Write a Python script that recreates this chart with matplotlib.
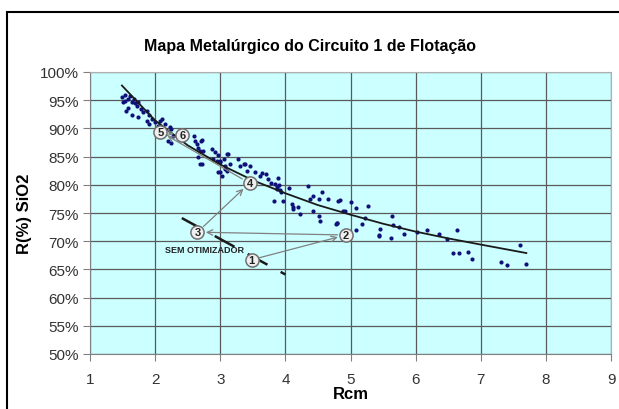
import matplotlib
matplotlib.use("Agg")
import matplotlib.pyplot as plt
from matplotlib.patches import Rectangle
from matplotlib.ticker import FuncFormatter

plt.rcParams["font.family"] = ["Liberation Sans", "DejaVu Sans"]

# pontos medidos (Rcm, R% SiO2)
rcm = [1.49, 1.54, 1.59, 1.51, 1.64, 1.69, 1.74, 1.59, 1.56, 1.64, 1.74, 1.82,
       1.87, 1.90, 1.87, 1.95, 2.00, 2.10, 2.15, 1.90, 2.25, 2.28, 2.20, 2.25,
       2.08, 2.23, 2.59, 2.61, 2.71, 2.66, 2.74, 2.87, 2.92, 2.97, 3.00, 3.05,
       3.10, 3.15, 2.72, 2.97, 3.02, 2.64, 2.66, 2.69, 3.07, 2.72, 2.69, 2.89,
       2.95, 2.99, 3.12, 3.07, 3.10, 3.00, 3.28, 3.30, 3.38, 3.46, 3.41, 3.53,
       3.64, 3.71, 3.74, 3.89, 3.84, 3.87, 3.92, 3.94, 3.82, 3.97, 4.05, 4.10,
       4.12, 4.20, 4.34, 4.38, 4.43, 4.51, 4.56, 4.66, 4.81, 4.43, 4.51, 4.23,
       4.92, 3.36, 3.61, 3.87, 4.12, 4.53, 4.79, 4.84, 5.00, 5.09, 5.27, 4.89,
       5.22, 5.18, 4.80, 4.78, 5.09, 5.45, 5.44, 5.43, 5.62, 5.63, 5.66, 5.75,
       5.82, 6.02, 6.17, 6.36, 6.48, 6.63, 6.58, 6.66, 6.80, 6.86, 7.31, 7.40,
       7.61, 7.70, 1.62, 1.78, 2.05, 3.78, 3.90, 1.53, 1.67, 1.72]
rsio2 = [95.5, 94.9, 95.2, 94.6, 94.7, 94.5, 94.6, 93.7, 93.1, 92.3, 92.0, 92.9,
         93.1, 92.3, 91.4, 91.7, 91.1, 91.7, 90.8, 90.8, 89.9, 88.7, 87.8, 87.5,
         91.4, 90.2, 88.7, 87.8, 87.8, 86.6, 86.0, 86.3, 85.8, 85.2, 84.3, 84.6,
         85.5, 83.7, 83.7, 82.2, 81.6, 87.2, 84.9, 83.7, 82.8, 88.0, 86.0, 84.6,
         84.3, 84.0, 85.5, 83.4, 82.5, 82.2, 84.6, 83.4, 83.7, 83.4, 82.5, 82.2,
         82.1, 81.9, 81.0, 81.2, 80.1, 79.3, 79.0, 78.7, 77.2, 77.2, 79.4, 76.6,
         75.7, 76.0, 79.7, 77.5, 78.1, 77.5, 78.7, 77.5, 77.2, 75.4, 74.5, 74.8,
         75.4, 83.7, 81.6, 79.6, 76.0, 73.6, 73.3, 77.3, 77.0, 75.8, 76.3, 75.4,
         74.2, 73.0, 73.3, 73.0, 72.0, 72.2, 71.1, 70.9, 70.5, 74.5, 72.8, 72.6,
         71.2, 71.6, 72.0, 71.2, 70.4, 71.9, 67.9, 67.9, 68.0, 66.8, 66.3, 65.7,
         69.3, 66.0, 95.8, 93.5, 90.4, 80.4, 79.9, 95.9, 95.3, 93.9]

# linha de tendência
fit_x = [1.49, 2, 2.5, 3, 3.5, 4, 4.5, 5, 5.5, 6, 6.5, 7, 7.7]
fit_y = [97.6, 91.4, 87.0, 83.6, 80.8, 78.5, 76.4, 74.7, 73.1, 71.7, 70.5, 69.4, 67.9]

# sem otimizador
sem_x = [2.41, 4.0]
sem_y = [74.1, 64.1]

# pontos operacionais numerados
op_num = ["1", "2", "3", "4", "5", "6"]
op_x = [3.48, 4.93, 2.65, 3.45, 2.08, 2.42]
op_y = [66.7, 71.1, 71.6, 80.3, 89.4, 88.8]
passos = [("1", "2"), ("2", "3"), ("3", "4"), ("4", "5"), ("5", "6")]

fig = plt.figure(figsize=(6.19, 4.10), dpi=100)
ax = fig.add_axes([90 / 619, 1 - 355 / 410, 521 / 619, 282 / 410])
ax.set_facecolor("#ccffff")

ax.plot(fit_x, fit_y, color="#1a1a1a", lw=1.3, zorder=3)
ax.scatter(rcm, rsio2, s=9, color="#10107a", zorder=2, linewidths=0)
ax.plot(sem_x, sem_y, color="#1a1a1a", lw=1.8, ls=(0, (9, 6)), zorder=3)
ax.text(2.15, 68.6, "SEM OTIMIZADOR", fontsize=6.5, fontweight="bold",
        color="#222222", va="center", zorder=4)

pos = {n: (x, y) for n, x, y in zip(op_num, op_x, op_y)}
for a, b in passos:
    ax.annotate("", xy=pos[b], xytext=pos[a],
                arrowprops=dict(arrowstyle="->", color="#808080", lw=0.9,
                                shrinkA=6, shrinkB=6), zorder=4)
ax.plot(op_x, op_y, "o", ms=9.5, mfc="#f0f0f0", mec="#707070", mew=1.1, zorder=5)
for n, x, y in zip(op_num, op_x, op_y):
    ax.text(x, y, n, fontsize=8, fontweight="bold", ha="center", va="center",
            color="#222222", zorder=6)

ax.set_xlim(1, 9)
ax.set_ylim(50, 100)
ax.set_xticks(range(1, 10))
ax.set_yticks(range(50, 101, 5))
ax.yaxis.set_major_formatter(FuncFormatter(lambda v, p: "%d%%" % v))
ax.grid(True, color="#5a5a5a", lw=0.9)
ax.set_axisbelow(True)
ax.tick_params(labelsize=11, labelcolor="#333333", color="#808080",
               length=5, direction="out")
ax.tick_params(axis="x", pad=8)
ax.tick_params(axis="y", pad=3)
for s in ["left", "bottom"]:
    ax.spines[s].set_color("#808080")
for s in ["top", "right"]:
    ax.spines[s].set_color("#b0b0b0")

ax.set_xlabel("Rcm", fontsize=12, fontweight="bold", labelpad=0)
ax.set_ylabel("R(%) SiO2", fontsize=12, fontweight="bold", labelpad=6)
fig.text(0.5, 1 - 47 / 410, "Mapa Metalúrgico do Circuito 1 de Flotação",
         fontsize=11.5, fontweight="bold", ha="center", va="center")

fig.patches.append(Rectangle((7 / 619, -0.1), 1.2, 1.1 - 13 / 410,
                             transform=fig.transFigure, fill=False,
                             edgecolor="black", lw=1.5))

fig.savefig("out.png", dpi=100)
